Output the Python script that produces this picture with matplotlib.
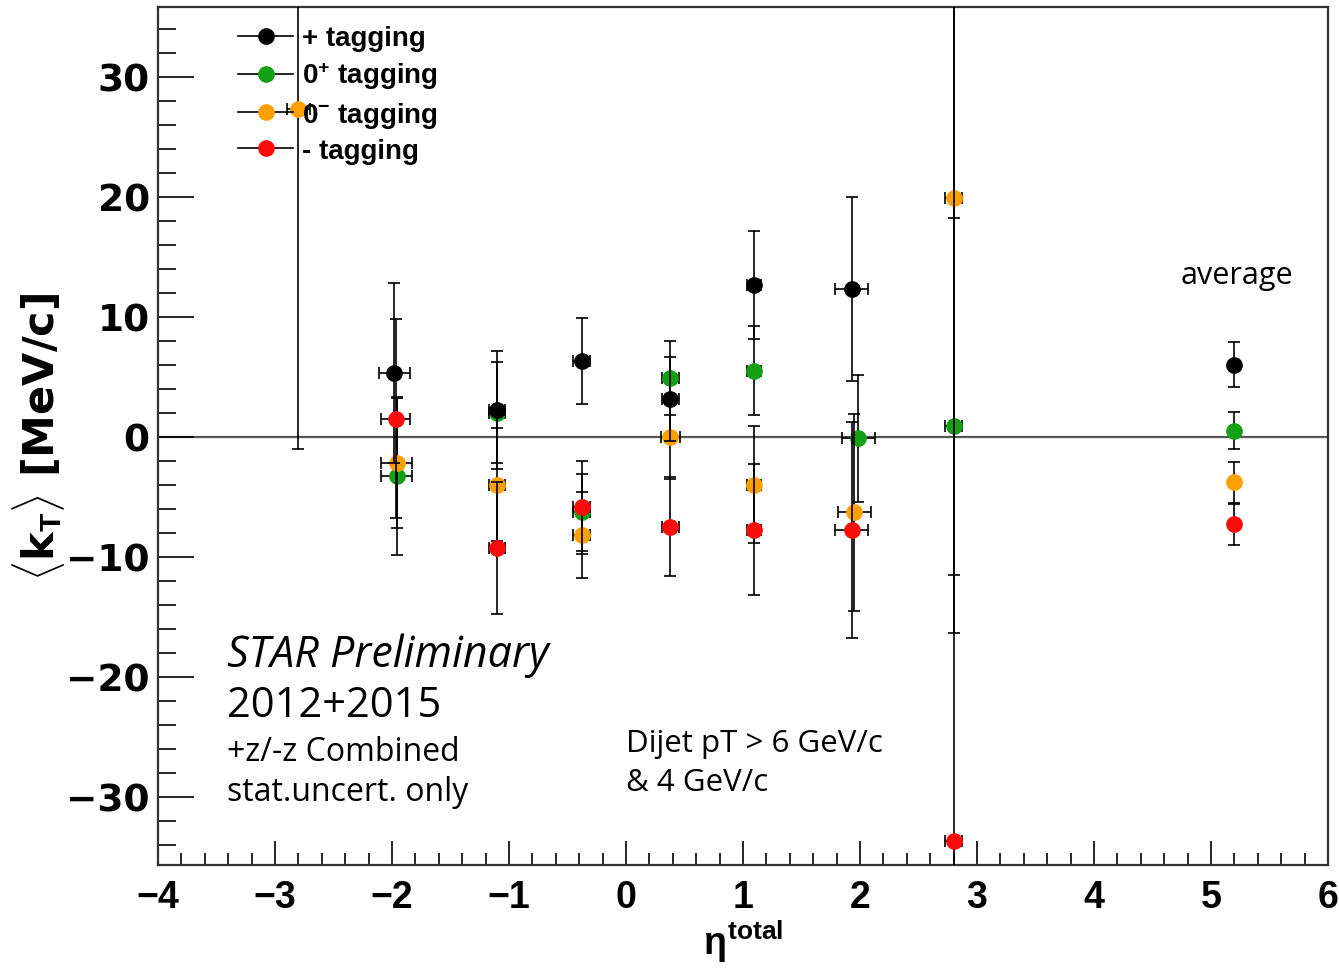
import numpy as np
import matplotlib
matplotlib.use("Agg")
import matplotlib.pyplot as plt
from matplotlib.lines import Line2D
from matplotlib.ticker import MultipleLocator

# <kT> vs eta_total, four tagging categories (STAR preliminary)
eta_plus = [-1.98, -1.10, -0.38, 0.38, 1.09, 1.93, 5.20]
kt_plus = [5.3, 2.2, 6.3, 3.1, 12.6, 12.3, 6.0]
ey_plus = [7.5, 4.9, 3.6, 3.5, 4.5, 7.7, 1.9]
ex_plus = [0.13, 0.07, 0.07, 0.07, 0.06, 0.14, 0.0]

eta_0p = [-1.96, -1.10, -0.38, 0.38, 1.09, 1.985, 2.80, 5.20]
kt_0p = [-3.3, 2.0, -6.3, 4.9, 5.5, -0.15, 0.9, 0.5]
ey_0p = [6.6, 4.2, 3.2, 3.1, 3.7, 5.3, 17.3, 1.55]
ex_0p = [0.13, 0.07, 0.07, 0.07, 0.06, 0.14, 0.07, 0.0]

eta_0m = [-2.80, -1.96, -1.10, -0.38, 0.38, 1.09, 1.95, 2.80, 5.20]
kt_0m = [27.3, -2.2, -4.0, -8.2, 0.0, -4.0, -6.3, 19.9, -3.8]
ey_0m = [28.3, 5.4, 4.7, 3.6, 3.5, 4.9, 8.2, 31.4, 1.7]
ex_0m = [0.10, 0.13, 0.07, 0.07, 0.08, 0.06, 0.14, 0.07, 0.0]

eta_m = [-1.97, -1.10, -0.38, 0.38, 1.09, 1.93, 2.80, 5.20]
kt_m = [1.5, -9.25, -5.9, -7.5, -7.75, -7.75, -33.7, -7.3]
ey_m = [8.3, 5.5, 3.9, 4.1, 5.45, 9.0, 72.0, 1.7]
ex_m = [0.12, 0.07, 0.07, 0.07, 0.06, 0.14, 0.07, 0.0]

xticks = [-4, -3, -2, -1, 0, 1, 2, 3, 4, 5, 6]
yticks = [-30, -20, -10, 0, 10, 20, 30]

labels = ["+ tagging", r"0$^{\mathbf{+}}$ tagging", r"0$^{\mathbf{-}}$ tagging", "- tagging"]
colors = ["black", "#14a014", "#ffa000", "#ff0a0a"]

plt.rcParams['font.family'] = ['Liberation Sans', 'DejaVu Sans']
plt.rcParams['mathtext.fontset'] = 'custom'
plt.rcParams['mathtext.rm'] = 'Liberation Sans:bold'
plt.rcParams['mathtext.bf'] = 'Liberation Sans:bold'
plt.rcParams['mathtext.it'] = 'Liberation Sans:bold'

fig = plt.figure(figsize=(13.39, 9.70), dpi=100)
ax = fig.add_axes([0.118, 0.1072, 0.8738, 0.8846])
ax.set_xlim(-4, 6)
ax.set_ylim(-35.7, 35.8)

ax.axhline(0, color="#555555", lw=1.6, zorder=1)

series = [
    (eta_0p, kt_0p, ex_0p, ey_0p, colors[1]),
    (eta_0m, kt_0m, ex_0m, ey_0m, colors[2]),
    (eta_plus, kt_plus, ex_plus, ey_plus, colors[0]),
    (eta_m, kt_m, ex_m, ey_m, colors[3]),
]
for i, (x, y, ex, ey, c) in enumerate(series):
    ax.errorbar(x, y, xerr=ex, yerr=ey, fmt="o", ms=11, mfc=c, mec=c,
                ecolor="black", elinewidth=1.2, capsize=4, capthick=1.2,
                zorder=3 + i)

# legend: black line through coloured marker
handles = [Line2D([], [], color="black", lw=1.2, marker="o", ms=11,
                  mfc=c, mec=c) for c in colors]
leg = ax.legend(handles, labels, loc="upper left", bbox_to_anchor=(0.054, 0.998),
                frameon=False, fontsize=20, handlelength=2.0, handletextpad=0.3,
                labelspacing=0.3, borderaxespad=0.2)
for t in leg.get_texts():
    t.set_fontweight("bold")

# axes styling (ROOT-like)
for s in ax.spines.values():
    s.set_linewidth(1.6)
    s.set_color("#333333")
ax.set_xticks(xticks)
ax.set_yticks(yticks)
ax.xaxis.set_minor_locator(MultipleLocator(0.2))
ax.yaxis.set_minor_locator(MultipleLocator(2))
ax.tick_params(axis="y", which="major", direction="in", length=26, width=1.2, pad=6)
ax.tick_params(axis="y", which="minor", direction="in", length=13, width=1.2)
ax.tick_params(axis="x", which="major", direction="in", length=17, width=1.2, pad=10)
ax.tick_params(axis="x", which="minor", direction="in", length=9, width=1.2)
ax.set_xticklabels([("\u2212%d" % -v) if v < 0 else "%d" % v for v in xticks],
                   fontsize=27, fontweight="bold")
ax.set_yticklabels([("\u2212%d" % -v) if v < 0 else "%d" % v for v in yticks],
                   fontsize=27, fontweight="bold", family="DejaVu Sans")

ax.set_ylabel(r"$\langle$k$_{\mathrm{T}}\rangle$ [MeV/c]", fontsize=31, fontweight="bold",
              family="DejaVu Sans")
ax.yaxis.set_label_coords(-0.078, 0.5)
ax.set_xlabel(r"$\eta^{\mathbf{total}}$", fontsize=27, fontweight="bold", labelpad=2)

# annotations
afont = ['Open Sans', 'DejaVu Sans']
ax.text(-3.41, -18.2, "STAR Preliminary", fontsize=31, style="italic", family=afont, va="center")
ax.text(-3.41, -22.4, "2012+2015", fontsize=30, family=afont, va="center")
ax.text(-3.41, -26.2, "+z/-z Combined", fontsize=23, family=afont, va="center")
ax.text(-3.41, -29.6, "stat.uncert. only", fontsize=23, family=afont, va="center")
ax.text(0.0, -25.5, "Dijet pT > 6 GeV/c", fontsize=22.5, family=afont, va="center")
ax.text(0.0, -28.8, "& 4 GeV/c", fontsize=22.5, family=afont, va="center")
ax.text(5.22, 13.5, "average", fontsize=22, family=afont, va="center", ha="center")

fig.savefig("out.png", dpi=100)
